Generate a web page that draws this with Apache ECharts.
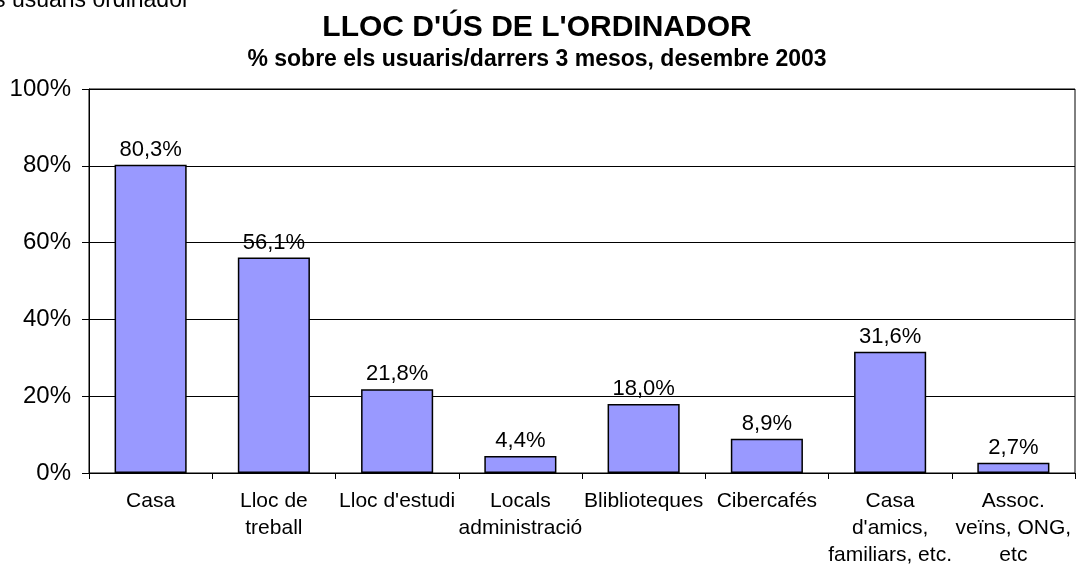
<!DOCTYPE html>
<html>
<head>
<meta charset="utf-8">
<script src="https://cdn.jsdelivr.net/npm/echarts@6/dist/echarts.min.js"></script>
<style>
  html, body { margin: 0; padding: 0; background: #fff; }
  #main { width: 1083px; height: 575px; }
</style>
</head>
<body>
<div id="main"></div>
<script>
// dades del gràfic
let categories = ['Casa', 'Lloc de\ntreball', "Lloc d'estudi", 'Locals\nadministració', 'Bliblioteques', 'Cibercafés', "Casa\nd'amics,\nfamiliars, etc.", 'Assoc.\nveïns, ONG,\netc'];
let values = [80.3, 56.1, 21.8, 4.4, 18.0, 8.9, 31.6, 2.7];
let yTicks = [0, 20, 40, 60, 80, 100];

let chart = echarts.init(document.getElementById('main'));
let font = '"Liberation Sans", Arial, sans-serif';

let option = {
    animation: false,
    backgroundColor: '#fff',
    textStyle: { fontFamily: font },
    title: {
        text: "LLOC D'ÚS DE L'ORDINADOR",
        subtext: '% sobre els usuaris/darrers 3 mesos, desembre 2003',
        left: 532,
        textAlign: 'center',
        top: 8,
        itemGap: 5,
        textStyle: { fontFamily: font, fontSize: 30, fontWeight: 'bold', color: '#000' },
        subtextStyle: { fontFamily: font, fontSize: 23, fontWeight: 'bold', color: '#000' }
    },
    graphic: [{
        type: 'text',
        x: -6,
        y: 1,
        style: { text: 's usuaris ordinador', font: '23px ' + font, fill: '#000', verticalAlign: 'middle' }
    }],
    grid: { left: 89, right: 8, top: 89, bottom: 102, show: true, borderColor: '#000', borderWidth: 1 },
    xAxis: {
        type: 'category',
        data: categories,
        axisLine: { lineStyle: { color: '#000', width: 1 } },
        axisTick: { show: true, alignWithLabel: false, length: 6, lineStyle: { color: '#000' } },
        axisLabel: { color: '#000', fontSize: 21, lineHeight: 27, margin: 15, interval: 0, fontFamily: font }
    },
    yAxis: {
        type: 'value',
        min: 0,
        max: 100,
        interval: 20,
        axisLine: { show: true, lineStyle: { color: '#000', width: 1 } },
        axisTick: { show: true, length: 7, lineStyle: { color: '#000' } },
        axisLabel: {
            color: '#000', fontSize: 24, margin: 18, fontFamily: font,
            formatter: function (v) { return yTicks.indexOf(v) >= 0 ? v + '%' : ''; }
        },
        splitLine: { lineStyle: { color: '#000', width: 1 } }
    },
    series: [{
        type: 'bar',
        data: values,
        barCategoryGap: '41.5%',
        itemStyle: { color: '#9999FF', borderColor: '#000', borderWidth: 1.5 },
        label: {
            show: true,
            position: 'top',
            distance: 4,
            color: '#000',
            fontSize: 22,
            fontFamily: font,
            formatter: function (p) { return p.value.toFixed(1).replace('.', ',') + '%'; }
        }
    }]
};

chart.setOption(option);
</script>
</body>
</html>
